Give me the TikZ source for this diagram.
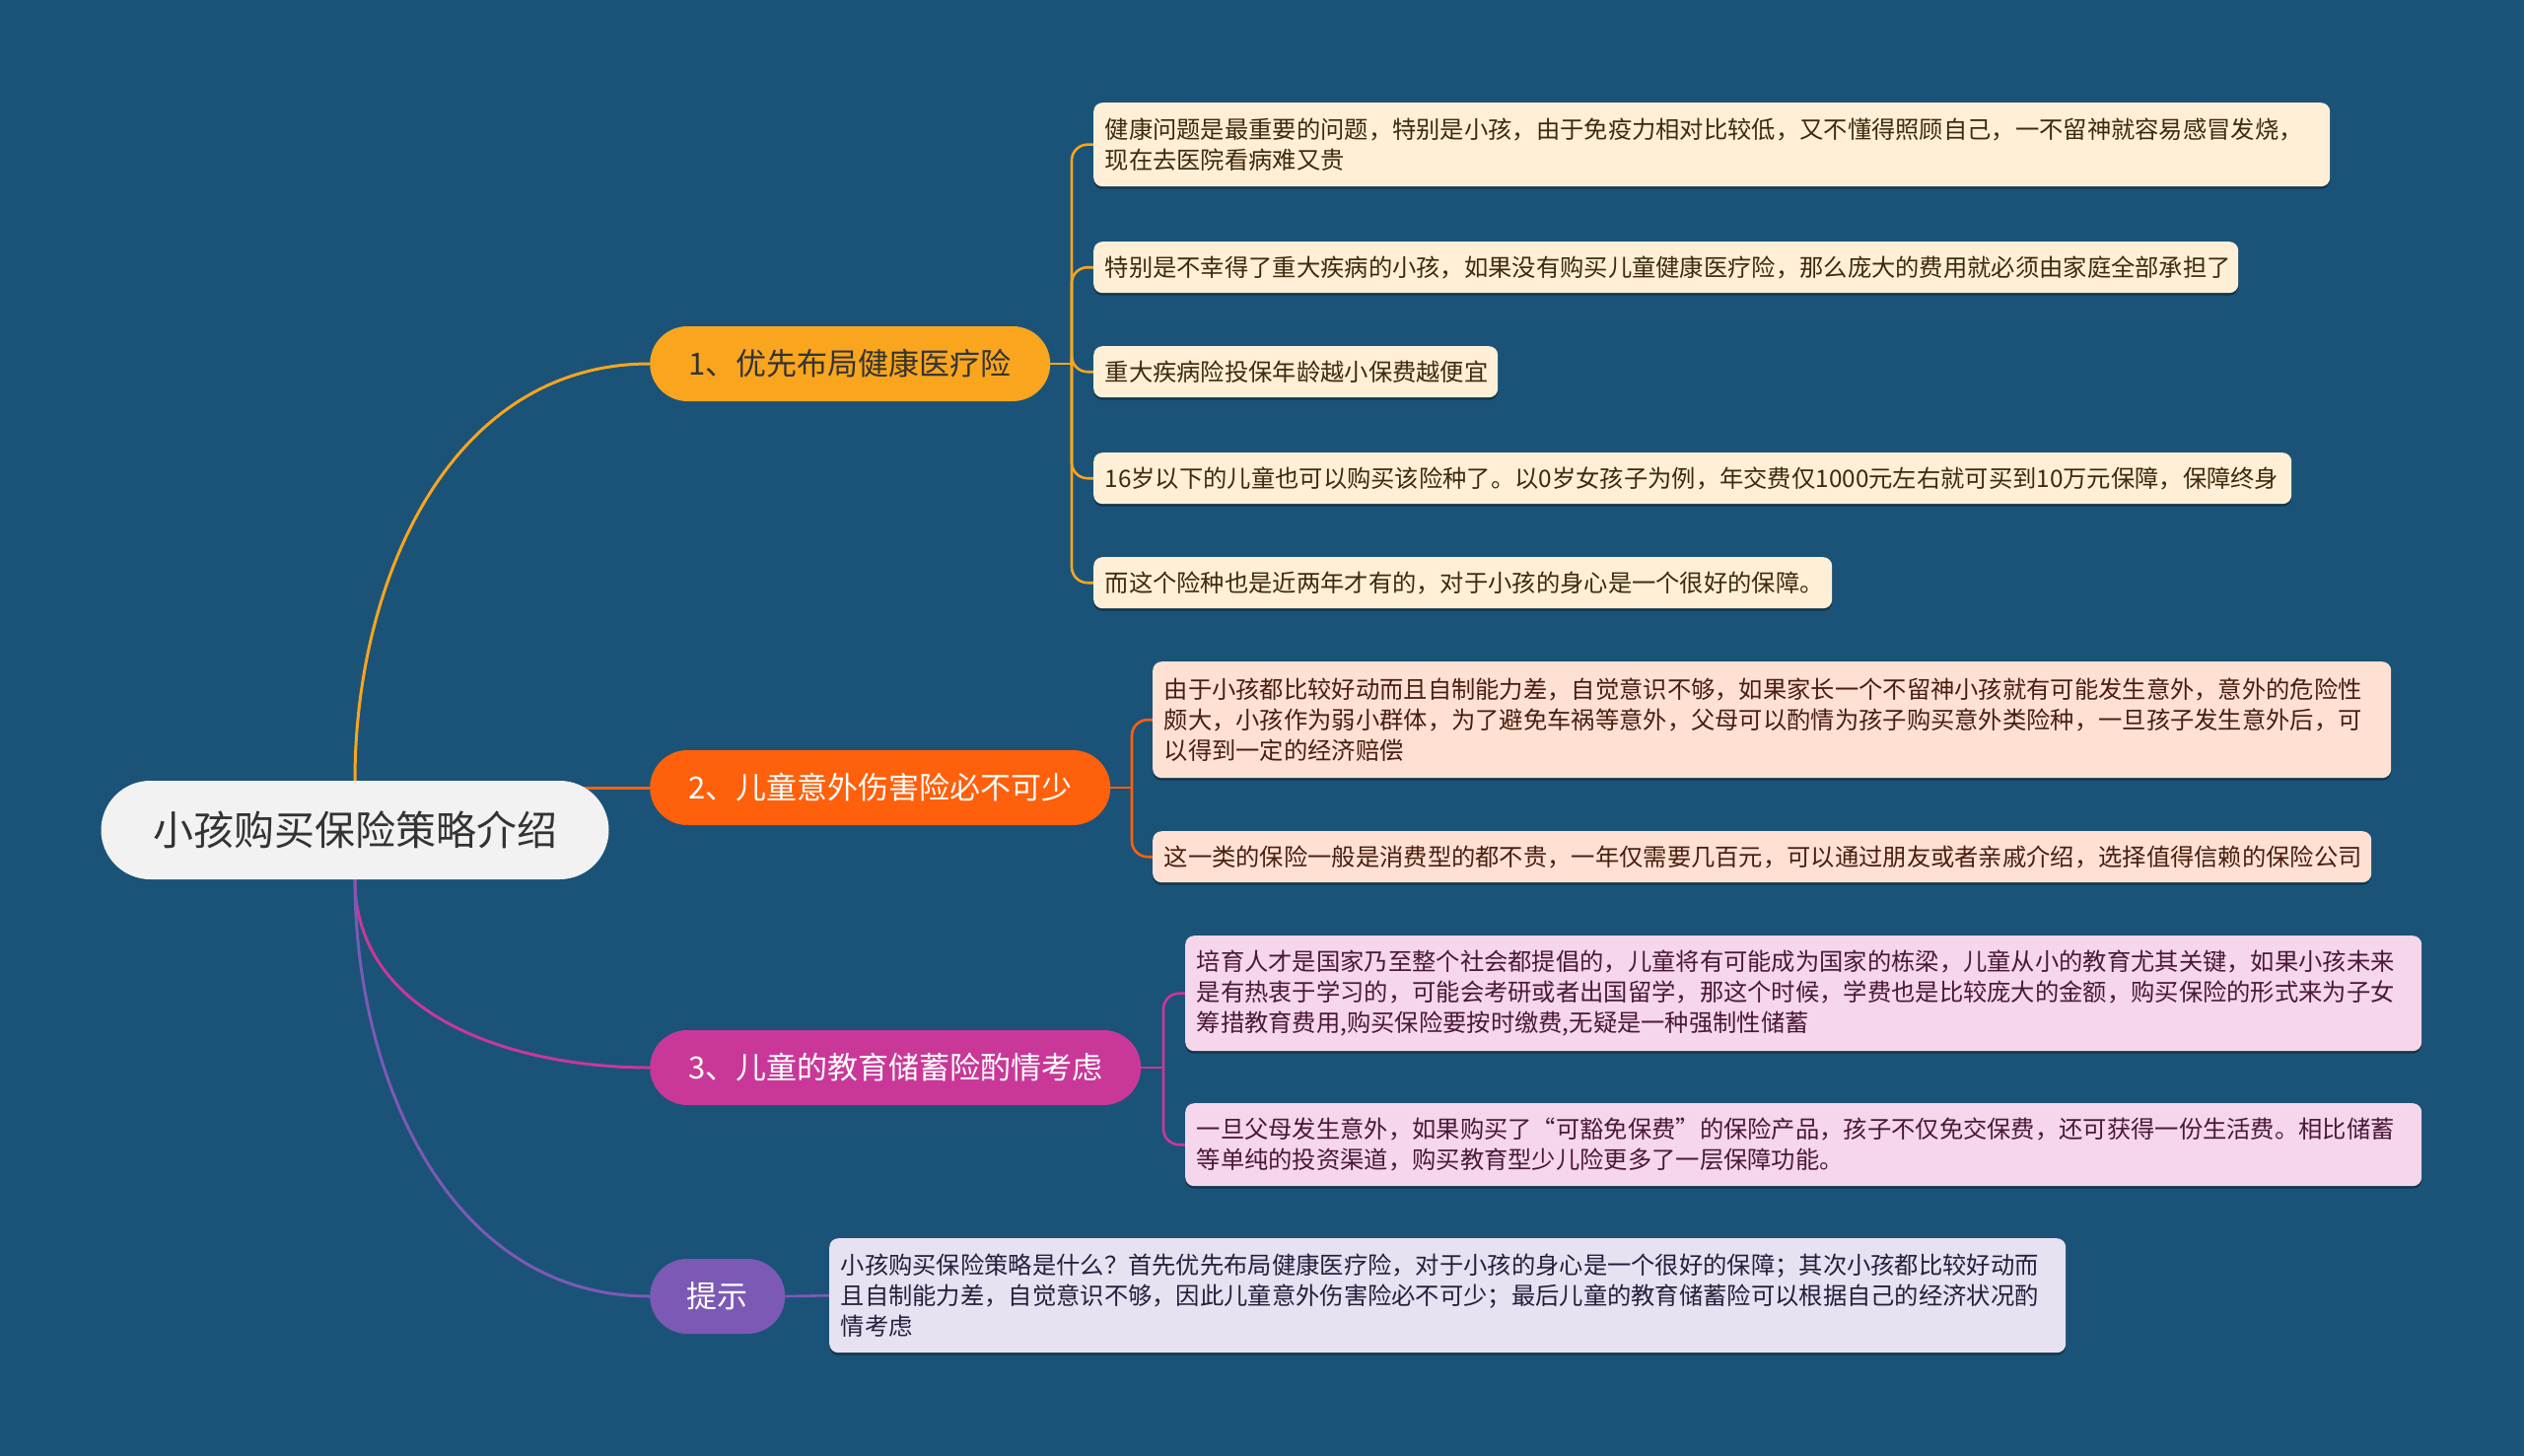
\documentclass[tikz,border=0pt]{standalone}
\usepackage{fontspec}
\setmainfont{Noto Sans CJK SC}
\usetikzlibrary{backgrounds,shadows}
\definecolor{bg}{HTML}{1A5377}
\definecolor{rootfill}{HTML}{F2F2F2}
\definecolor{rootText}{HTML}{333333}
\definecolor{cA}{HTML}{F9A51E}
\definecolor{cB}{HTML}{FF600B}
\definecolor{cC}{HTML}{C93898}
\definecolor{cD}{HTML}{7D59B6}
\definecolor{fA}{HTML}{FFEFD6}
\definecolor{fB}{HTML}{FFE1D3}
\definecolor{fC}{HTML}{F6D6EB}
\definecolor{fD}{HTML}{E7E1F2}
\definecolor{tA}{HTML}{3E2A0C}
\definecolor{tB}{HTML}{4A1E0E}
\definecolor{tC}{HTML}{4A1838}
\definecolor{tD}{HTML}{261E3C}
\tikzset{
  rootnode/.style={fill=rootfill, text=rootText, rounded corners=50pt,
    minimum width=515pt, minimum height=100pt, inner sep=0pt,
    font=\fontsize{41pt}{48pt}\selectfont},
  branch/.style={anchor=west, rounded corners=38pt, minimum height=76pt,
    inner sep=0pt, font=\fontsize{31pt}{36pt}\selectfont},
  leaf/.style={anchor=north west, rounded corners=9pt, inner xsep=11.5pt, inner ysep=0pt,
    align=left, font=\fontsize{24.3pt}{31pt}\selectfont,
    drop shadow={shadow xshift=0pt,shadow yshift=-2.5pt,opacity=0.35,fill=black}},
  rootline/.style={line width=3pt},
  leafline/.style={line width=2.6pt, rounded corners=16pt},
}
\newcommand{\leafnode}[7]{%
  \node[leaf, fill=#4, text=#5, minimum width=#6pt, minimum height=#7pt,
        text width=#6pt-23pt] (#1) at (#2,#3)}
\begin{document}
\begin{tikzpicture}[x=1pt,y=-1pt]
\useasboundingbox (0,0) rectangle (2560,1477);

\node[rootnode] (root) at (360,842) {小孩购买保险策略介绍};

\node[branch, fill=cA, text=rootText, minimum width=406pt] (b1) at (659,369) {1、优先布局健康医疗险};
\node[branch, fill=cB, text=white, minimum width=467pt] (b2) at (659,799) {2、儿童意外伤害险必不可少};
\node[branch, fill=cC, text=white, minimum width=498pt] (b3) at (659,1083) {3、儿童的教育储蓄险酌情考虑};
\node[branch, fill=cD, text=white, minimum width=137pt] (b4) at (659,1315) {提示};

\leafnode{a1}{1109}{104}{fA}{tA}{1254}{85}{健康问题是最重要的问题，特别是小孩，由于免疫力相对比较低，又不懂得照顾自己，一不留神就容易感冒发烧，\\现在去医院看病难又贵};
\leafnode{a2}{1109}{245}{fA}{tA}{1161}{52}{特别是不幸得了重大疾病的小孩，如果没有购买儿童健康医疗险，那么庞大的费用就必须由家庭全部承担了};
\leafnode{a3}{1109}{351}{fA}{tA}{410}{52}{重大疾病险投保年龄越小保费越便宜};
\leafnode{a4}{1109}{459}{fA}{tA}{1215}{52}{16岁以下的儿童也可以购买该险种了。以0岁女孩子为例，年交费仅1000元左右就可买到10万元保障，保障终身};
\leafnode{a5}{1109}{565}{fA}{tA}{749}{52}{而这个险种也是近两年才有的，对于小孩的身心是一个很好的保障。};

\leafnode{d1}{1169}{671}{fB}{tB}{1256}{118}{由于小孩都比较好动而且自制能力差，自觉意识不够，如果家长一个不留神小孩就有可能发生意外，意外的危险性\\颇大，小孩作为弱小群体，为了避免车祸等意外，父母可以酌情为孩子购买意外类险种，一旦孩子发生意外后，可\\以得到一定的经济赔偿};
\leafnode{d2}{1169}{843}{fB}{tB}{1236}{52}{这一类的保险一般是消费型的都不贵，一年仅需要几百元，可以通过朋友或者亲戚介绍，选择值得信赖的保险公司};

\leafnode{e1}{1202}{949}{fC}{tC}{1254}{117}{培育人才是国家乃至整个社会都提倡的，儿童将有可能成为国家的栋梁，儿童从小的教育尤其关键，如果小孩未来\\是有热衷于学习的，可能会考研或者出国留学，那这个时候，学费也是比较庞大的金额，购买保险的形式来为子女\\筹措教育费用,购买保险要按时缴费,无疑是一种强制性储蓄};
\leafnode{e2}{1202}{1119}{fC}{tC}{1254}{84}{一旦父母发生意外，如果购买了“可豁免保费”的保险产品，孩子不仅免交保费，还可获得一份生活费。相比储蓄\\等单纯的投资渠道，购买教育型少儿险更多了一层保障功能。};

\leafnode{f1}{841}{1256}{fD}{tD}{1254}{116}{小孩购买保险策略是什么？首先优先布局健康医疗险，对于小孩的身心是一个很好的保障；其次小孩都比较好动而\\且自制能力差，自觉意识不够，因此儿童意外伤害险必不可少；最后儿童的教育储蓄险可以根据自己的经济状况酌\\情考虑};

\coordinate (s1) at (1087,369);
\coordinate (s2) at (1148,799);
\coordinate (s3) at (1180,1083);

\begin{scope}[on background layer]
\fill[bg] (0,0) rectangle (2560,1477);
\draw[rootline, cA] (root.north) to[out=90,in=180] (b1.west);
\draw[rootline, cB] (root.center |- b2.west) -- (b2.west);
\draw[rootline, cC] (root.south) to[out=-90,in=180] (b3.west);
\draw[rootline, cD] (root.south) to[out=-90,in=180] (b4.west);

\draw[leafline, cA] (b1.east) -- (s1);
\foreach \n in {a1,a2,a3,a4,a5} \draw[leafline, cA] (s1) |- (\n.west);
\draw[leafline, cB] (b2.east) -- (s2);
\foreach \n in {d1,d2} \draw[leafline, cB] (s2) |- (\n.west);
\draw[leafline, cC] (b3.east) -- (s3);
\foreach \n in {e1,e2} \draw[leafline, cC] (s3) |- (\n.west);
\draw[leafline, cD] (b4.east) -- (f1.west);
\end{scope}
\end{tikzpicture}
\end{document}
